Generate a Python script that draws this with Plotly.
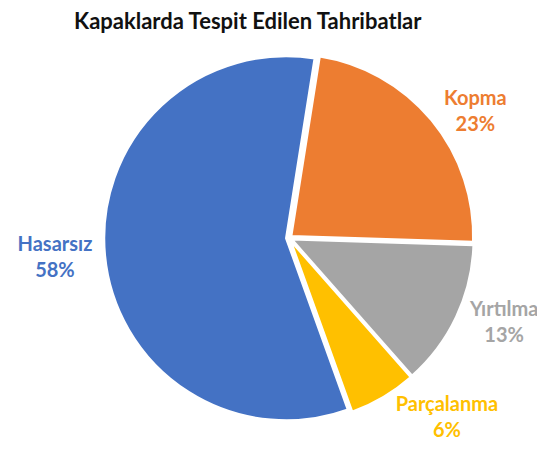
import plotly.graph_objects as go

# dilim isimleri ve yuzdeleri
labels = ["Kopma", "Yırtılma", "Parçalanma", "Hasarsız"]
values = [23, 13, 6, 58]
colors = ["#ED7D31", "#A5A5A5", "#FFC000", "#4472C4"]

fig = go.Figure(go.Pie(
    labels=labels,
    values=values,
    sort=False,
    direction="clockwise",
    rotation=9,
    pull=[0.015, 0.015, 0.015, 0.015],
    marker=dict(colors=colors, line=dict(color="white", width=2.5)),
    texttemplate="<b>%{label}<br>%{percent:.0%}</b>",
    textposition="outside",
    textfont=dict(family="Lato", size=20, color=colors),
    showlegend=False,
    hoverinfo="label+percent",
))

fig.update_layout(
    width=545, height=460,
    margin=dict(l=96, r=79, t=45, b=45),
    paper_bgcolor="white",
    title=dict(text="<b>Kapaklarda Tespit Edilen Tahribatlar</b>",
               x=0.44, xanchor="center", y=0.972, yanchor="middle",
               font=dict(family="Lato", size=22, color="#111111")),
)

fig.write_html("out.html")
